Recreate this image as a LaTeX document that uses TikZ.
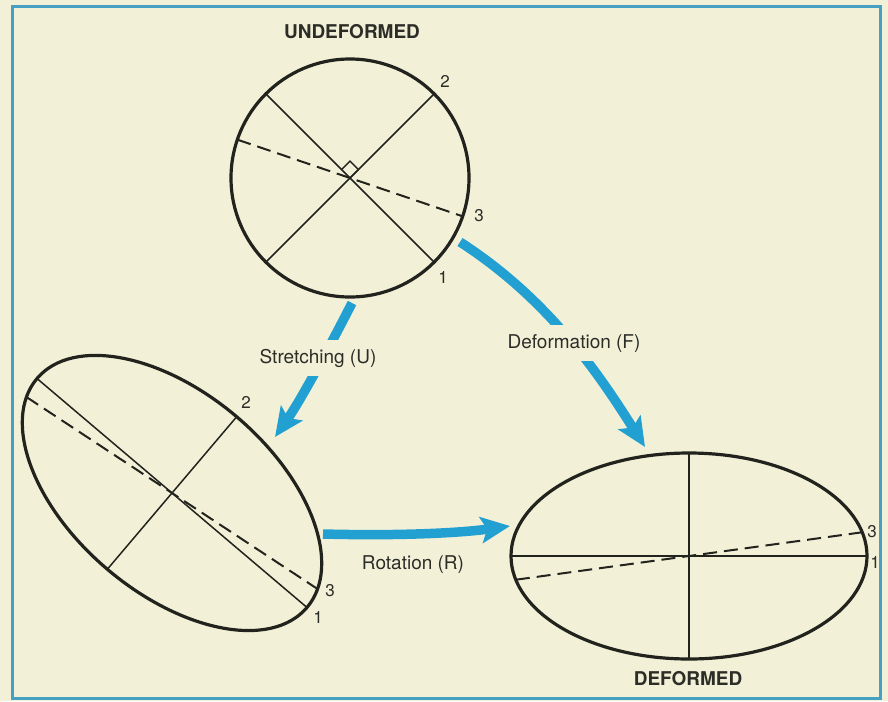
\documentclass[tikz,border=0pt]{standalone}
\usepackage{fontspec}
\setmainfont{TeX Gyre Heros}
\usetikzlibrary{arrows.meta,calc}
\definecolor{bg}{RGB}{242,241,216}
\definecolor{framec}{RGB}{70,160,195}
\definecolor{flowc}{RGB}{35,160,210}
\definecolor{ink}{RGB}{35,35,30}
\definecolor{txt}{RGB}{45,45,40}
\begin{document}
\begin{tikzpicture}[x=1pt,y=-1pt,
  outline/.style={draw=ink,line width=3.2pt},
  axisline/.style={draw=ink,line width=1.5pt},
  dashaxis/.style={draw=ink,line width=2pt,dash pattern=on 14pt off 7pt},
  num/.style={text=txt,font=\fontsize{17}{19}\selectfont,inner sep=0pt,anchor=base},
  ttl/.style={text=txt,font=\bfseries\fontsize{19}{22}\selectfont,inner sep=0pt,anchor=base},
  lab/.style={text=txt,font=\fontsize{19}{22}\selectfont,anchor=base,inner xsep=4pt,inner ysep=9pt},
  flow/.style={draw=flowc,line width=9.5pt,-{Stealth[length=29pt,width=26pt,inset=6pt]}}
]
\useasboundingbox (0,0) rectangle (888,701);
\fill[bg] (0,0) rectangle (888,701);
\draw[framec,line width=3pt] (12,7) rectangle (880,698);

% undeformed circle
\coordinate (c1) at (350,178);
\draw[outline] (c1) circle [radius=119];
\draw[axisline] ($(c1)+(-135:119)$) -- ($(c1)+(45:119)$);
\draw[axisline] ($(c1)+(135:119)$) -- ($(c1)+(-45:119)$);
\draw[dashaxis] ($(c1)+(198.8:119)$) -- ($(c1)+(18.8:119)$);
\draw[ink,line width=1.4pt] (c1) -- ++(-45:12) -- ++(-135:12) -- ++(135:12);
\node[ttl] (tU) at (352,39) {UNDEFORMED};
\node[num] (a2) at (445,87) {2};
\node[num] (a3) at (479,221.5) {3};
\node[num] (a1) at (443,283) {1};

% stretched ellipse
\coordinate (c2) at (172,493);
\draw[outline,rotate around={-40.3:(c2)}] (c2) ellipse [x radius=177, y radius=100];
\draw[axisline] ($(c2)+(220.3:177)$) -- ($(c2)+(40.3:177)$);
\draw[axisline] ($(c2)+(130.3:100)$) -- ($(c2)+(-49.7:100)$);
\draw[dashaxis] ($(c2)+(213.4:174.4)$) -- ($(c2)+(33.4:174.4)$);
\node[num] (b2) at (246,408) {2};
\node[num] (b3) at (330,596.5) {3};
\node[num] (b1) at (318,623) {1};

% deformed ellipse
\coordinate (c3) at (689,556);
\draw[outline] (c3) ellipse [x radius=178, y radius=103];
\draw[axisline] ($(c3)+(180:178)$) -- ($(c3)+(0:178)$);
\draw[axisline] ($(c3)+(-90:103)$) -- ($(c3)+(90:103)$);
\draw[dashaxis] ($(c3)+(172.2:174.8)$) -- ($(c3)+(-7.8:174.8)$);
\node[ttl] (tD) at (688,685) {DEFORMED};
\node[num] (d3) at (872,537) {3};
\node[num] (d1) at (875,568) {1};

% arrows
\coordinate (s0) at (352,303);
\coordinate (s1) at (275,437);
\coordinate (f0) at (460,242);
\coordinate (f1) at (645,447);
\coordinate (r0) at (323,534);
\coordinate (r1) at (510,526);
\draw[flow] (s0) .. controls (331.6,343.1) and (300.8,400.1) .. (s1);
\draw[flow] (f0) .. controls (550,300) and (600,376) .. (f1);
\draw[flow] (r0) .. controls (400,536) and (460,533) .. (r1);
\node[lab,fill=bg] (sl) at (318,363) {Stretching (U)};
\node[lab,fill=bg] (fl) at (574,348) {Deformation (F)};
\node[lab] (rl) at (413,569) {Rotation (R)};
\end{tikzpicture}
\end{document}
